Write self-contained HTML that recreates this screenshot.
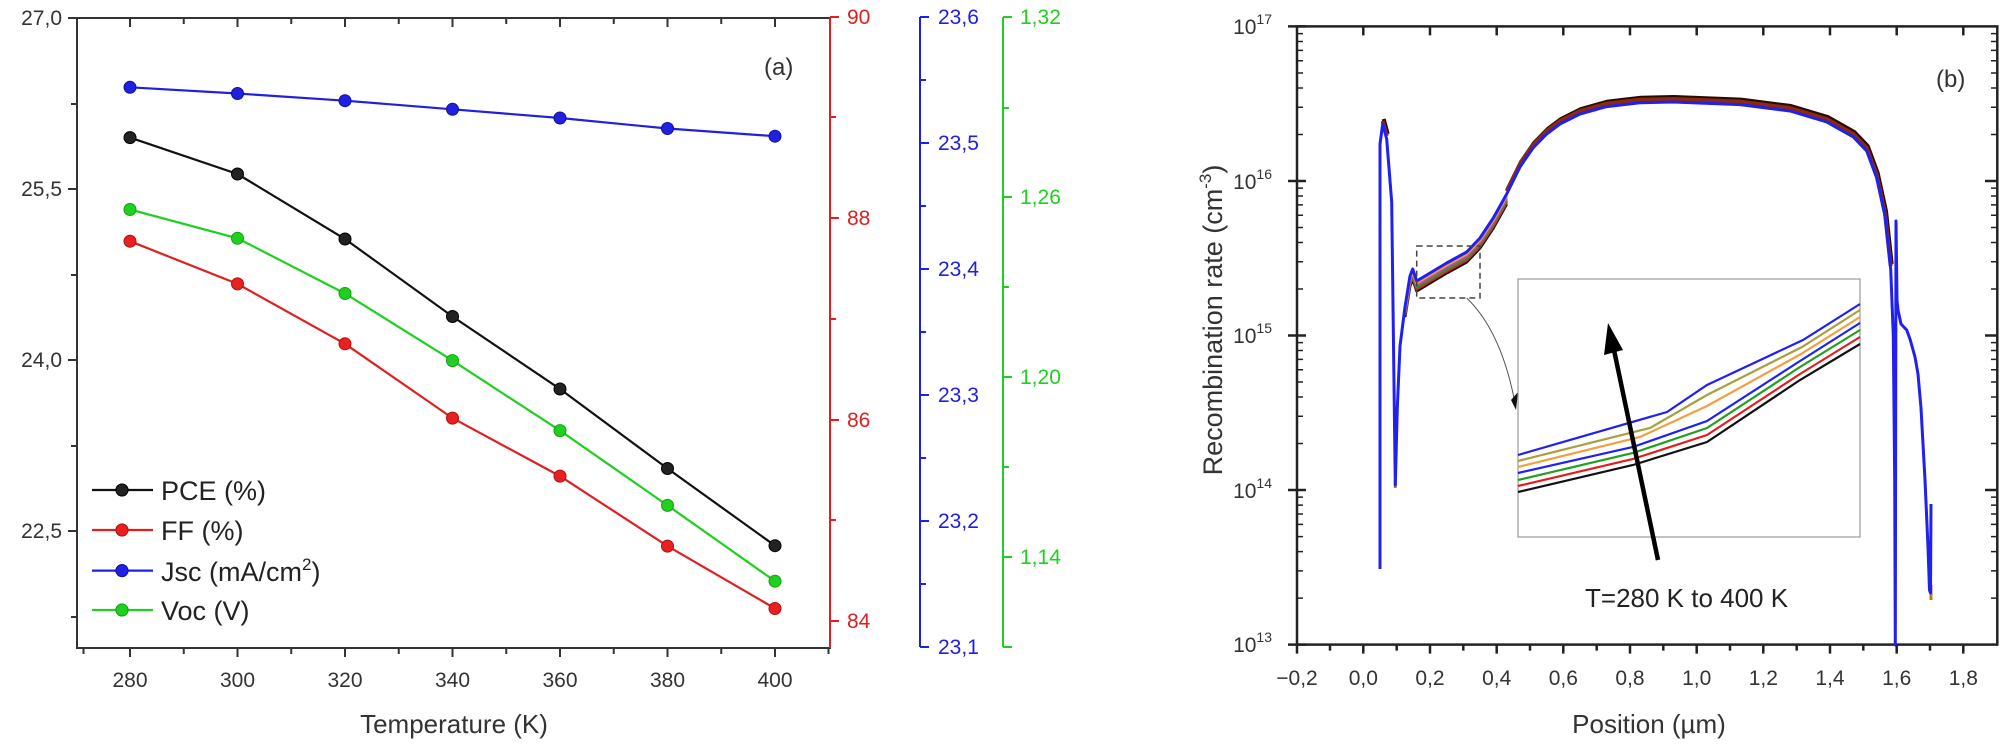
<!DOCTYPE html>
<html><head><meta charset="utf-8"><style>
html,body{margin:0;padding:0;background:#fff;}
svg{display:block;font-family:"Liberation Sans",Arial,sans-serif;}
</style></head><body>
<svg width="2008" height="748" viewBox="0 0 2008 748" xmlns="http://www.w3.org/2000/svg">
<!-- ============ PANEL A ============ -->
<g stroke="#333" stroke-width="2" fill="none">
<rect x="77" y="18" width="753" height="630"/>
<path d="M130,648v9M237.5,648v9M345,648v9M452.5,648v9M560,648v9M667.5,648v9M775,648v9
M183.75,648v6M291.25,648v6M398.75,648v6M506.25,648v6M613.75,648v6M721.25,648v6M83.5,648v6M828.5,648v6"/>
<path d="M130,18v9M237.5,18v9M345,18v9M452.5,18v9M560,18v9M667.5,18v9M775,18v9
M183.75,18v6M291.25,18v6M398.75,18v6M506.25,18v6M613.75,18v6M721.25,18v6"/>
<path d="M77,18h-9M77,189h-9M77,360h-9M77,531h-9M77,104h-6M77,275h-6M77,446h-6M77,617h-6"/>
</g>
<g stroke="#e02020" stroke-width="2" fill="none">
<path d="M830,18V648M830,17h9M830,218h9M830,420h9M830,621h9M830,117h6M830,319h6M830,520h6"/>
</g>
<g stroke="#2020e0" stroke-width="2" fill="none">
<path d="M920,17V647M920,17h9M920,143h9M920,269h9M920,395h9M920,521h9M920,647h9
M920,80h6M920,206h6M920,332h6M920,458h6M920,584h6"/>
</g>
<g stroke="#20d020" stroke-width="2" fill="none">
<path d="M1003,17V647M1003,17h9M1003,197h9M1003,377h9M1003,557h9M1003,647h9M1003,108h6M1003,287h6M1003,467h6"/>
</g>
<g font-size="21" fill="#333" text-anchor="end">
<text x="62" y="25">27,0</text><text x="62" y="196">25,5</text><text x="62" y="367">24,0</text><text x="62" y="538">22,5</text>
</g>
<g font-size="21" fill="#333" text-anchor="middle">
<text x="130" y="687">280</text><text x="237.5" y="687">300</text><text x="345" y="687">320</text><text x="452.5" y="687">340</text><text x="560" y="687">360</text><text x="667.5" y="687">380</text><text x="775" y="687">400</text>
</g>
<text x="454" y="733" font-size="26" fill="#333" text-anchor="middle">Temperature (K)</text>
<g font-size="21" fill="#e02020"><text x="847" y="24">90</text><text x="847" y="225">88</text><text x="847" y="427">86</text><text x="847" y="628">84</text></g>
<g font-size="21" fill="#2020e0"><text x="938" y="24">23,6</text><text x="938" y="150">23,5</text><text x="938" y="276">23,4</text><text x="938" y="402">23,3</text><text x="938" y="528">23,2</text><text x="938" y="654">23,1</text></g>
<g font-size="21" fill="#20d020"><text x="1020" y="24">1,32</text><text x="1020" y="204">1,26</text><text x="1020" y="384">1,20</text><text x="1020" y="564">1,14</text></g>
<text x="764" y="75" font-size="24" fill="#333">(a)</text>
<g fill="none" stroke-width="2.2">
<polyline stroke="#2020e0" points="130,87.3 237.5,93.5 345,100.7 452.5,109.3 560,118 667.5,128.5 775,136.2"/>
<polyline stroke="#111" points="130,137.6 237.5,174 345,239 452.5,316.5 560,389 667.5,468.5 775,545.7"/>
<polyline stroke="#20d020" points="130,209.5 237.5,238.3 345,293.5 452.5,360.6 560,430.6 667.5,505.4 775,581.2"/>
<polyline stroke="#e02020" points="130,241.2 237.5,283.9 345,343.8 452.5,418.1 560,476.1 667.5,546.1 775,608.5"/>
</g>
<g stroke-width="1">
<g fill="#2020e0" stroke="#1010a0"><circle cx="130" cy="87.3" r="6"/><circle cx="237.5" cy="93.5" r="6"/><circle cx="345" cy="100.7" r="6"/><circle cx="452.5" cy="109.3" r="6"/><circle cx="560" cy="118" r="6"/><circle cx="667.5" cy="128.5" r="6"/><circle cx="775" cy="136.2" r="6"/><circle cx="122" cy="570.6" r="6"/></g>
<g fill="#222" stroke="#000"><circle cx="130" cy="137.6" r="6"/><circle cx="237.5" cy="174" r="6"/><circle cx="345" cy="239" r="6"/><circle cx="452.5" cy="316.5" r="6"/><circle cx="560" cy="389" r="6"/><circle cx="667.5" cy="468.5" r="6"/><circle cx="775" cy="545.7" r="6"/><circle cx="122" cy="490" r="6"/></g>
<g fill="#20d020" stroke="#10a010"><circle cx="130" cy="209.5" r="6"/><circle cx="237.5" cy="238.3" r="6"/><circle cx="345" cy="293.5" r="6"/><circle cx="452.5" cy="360.6" r="6"/><circle cx="560" cy="430.6" r="6"/><circle cx="667.5" cy="505.4" r="6"/><circle cx="775" cy="581.2" r="6"/><circle cx="122" cy="610" r="6"/></g>
<g fill="#e82020" stroke="#b01010"><circle cx="130" cy="241.2" r="6"/><circle cx="237.5" cy="283.9" r="6"/><circle cx="345" cy="343.8" r="6"/><circle cx="452.5" cy="418.1" r="6"/><circle cx="560" cy="476.1" r="6"/><circle cx="667.5" cy="546.1" r="6"/><circle cx="775" cy="608.5" r="6"/><circle cx="122" cy="530" r="6"/></g>
</g>
<g stroke-width="2.2"><path d="M92,490h61" stroke="#111"/><path d="M92,530h61" stroke="#e02020"/><path d="M92,570.6h61" stroke="#2020e0"/><path d="M92,610h61" stroke="#20d020"/></g>
<g stroke-width="1"><circle cx="122" cy="490" r="6" fill="#222" stroke="#000"/><circle cx="122" cy="530" r="6" fill="#e82020" stroke="#b01010"/><circle cx="122" cy="570.6" r="6" fill="#2020e0" stroke="#1010a0"/><circle cx="122" cy="610" r="6" fill="#20d020" stroke="#10a010"/></g>
<g font-size="27" fill="#222">
<text x="161" y="500">PCE (%)</text><text x="161" y="540">FF (%)</text>
<text x="161" y="581">Jsc (mA/cm<tspan font-size="17" dy="-11">2</tspan><tspan dy="11">)</tspan></text>
<text x="161" y="620">Voc (V)</text>
</g>

<!-- ============ PANEL B ============ -->
<g stroke="#222" stroke-width="2.5" fill="none">
<rect x="1297" y="26.4" width="700.3" height="618.2"/>
<path d="M1297,644.6v9M1363.3,644.6v9M1430,644.6v9M1496.7,644.6v9M1563.3,644.6v9M1630,644.6v9M1696.7,644.6v9M1763.3,644.6v9M1830,644.6v9M1896.7,644.6v9M1963.3,644.6v9
M1330,644.6v6M1396.7,644.6v6M1463.3,644.6v6M1530,644.6v6M1596.7,644.6v6M1663.3,644.6v6M1730,644.6v6M1796.7,644.6v6M1863.3,644.6v6M1930,644.6v6"/>
<path d="M1363.3,26.4v9M1430,26.4v9M1496.7,26.4v9M1563.3,26.4v9M1630,26.4v9M1696.7,26.4v9M1763.3,26.4v9M1830,26.4v9M1896.7,26.4v9M1963.3,26.4v9"/>
<path d="M1288,26.4h18M1288,181h18M1288,335.5h18M1288,490h18M1288,644.6h18M1997,181h-12M1997,335.5h-12M1997,490h-12"/>
</g>
<defs>
<path id="mt" d="M1297,598.1h6M1297,570.9h6M1297,551.6h6M1297,536.6h6M1297,524.4h6M1297,514.0h6M1297,505.1h6M1297,497.1h6
M1297,443.5h6M1297,416.3h6M1297,397.0h6M1297,382.0h6M1297,369.8h6M1297,359.4h6M1297,350.5h6M1297,342.6h6
M1297,289.0h6M1297,261.8h6M1297,242.5h6M1297,227.5h6M1297,215.3h6M1297,204.9h6M1297,196.0h6M1297,188.1h6
M1297,134.5h6M1297,107.3h6M1297,88.0h6M1297,73.0h6M1297,60.8h6M1297,50.4h6M1297,41.5h6M1297,33.6h6"/>
</defs>
<g stroke="#222" stroke-width="1.5">
<use href="#mt"/>
<use href="#mt" transform="translate(3294,0) scale(-1,1)"/>
</g>
<g font-size="21" fill="#333" text-anchor="end">
<text x="1272" y="34">10<tspan font-size="14" dy="-10">17</tspan></text>
<text x="1272" y="189">10<tspan font-size="14" dy="-10">16</tspan></text>
<text x="1272" y="343">10<tspan font-size="14" dy="-10">15</tspan></text>
<text x="1272" y="498">10<tspan font-size="14" dy="-10">14</tspan></text>
<text x="1272" y="652">10<tspan font-size="14" dy="-10">13</tspan></text>
</g>
<g font-size="21" fill="#333" text-anchor="middle">
<text x="1297" y="685">−0,2</text><text x="1363.3" y="685">0,0</text><text x="1430" y="685">0,2</text><text x="1496.7" y="685">0,4</text><text x="1563.3" y="685">0,6</text><text x="1630" y="685">0,8</text><text x="1696.7" y="685">1,0</text><text x="1763.3" y="685">1,2</text><text x="1830" y="685">1,4</text><text x="1896.7" y="685">1,6</text><text x="1963.3" y="685">1,8</text>
</g>
<text x="1649" y="733" font-size="26" fill="#333" text-anchor="middle">Position (µm)</text>
<text transform="translate(1222,320) rotate(-90)" font-size="27" fill="#333" text-anchor="middle">Recombination rate (cm<tspan font-size="17" dy="-11">-3</tspan><tspan dy="11">)</tspan></text>
<text x="1936" y="87" font-size="24" fill="#333">(b)</text>

<defs>
<path id="cA" d="M1405,307 L1410,276 L1412.7,269 L1416.7,281 L1426.7,275 L1446.7,263 L1466.7,252 L1480,238 L1493.3,218 L1506.7,194"/>
<path id="cB" d="M1382.7,124 L1386.7,139 M1506.7,194 L1520,167 L1533,148 L1546.7,134 L1560,124 L1580,114 L1606.7,106.6 L1640,102.7 L1673,102 L1740,104.6 L1790,111 L1826.7,122 L1853.3,137 L1866.7,151 L1876.7,178 L1885,216 L1890.7,269"/>
</defs>
<g fill="none" stroke-linejoin="round">
<use href="#cB" transform="translate(1,-5)" stroke="#2a0a05" stroke-width="4"/>
<use href="#cB" transform="translate(0,-3)" stroke="#8a2a10" stroke-width="4"/>
<use href="#cA" transform="translate(0,10)" stroke="#111" stroke-width="3"/>
<use href="#cA" transform="translate(0,8)" stroke="#e02020" stroke-width="3"/>
<use href="#cA" transform="translate(0,6)" stroke="#20a020" stroke-width="3"/>
<use href="#cA" transform="translate(0,4)" stroke="#c040c0" stroke-width="3"/>
<use href="#cA" transform="translate(0,2)" stroke="#f0a030" stroke-width="3"/>
<path stroke="#b08020" stroke-width="3" d="M1896,221 V246 M1931,585 V600 M1395.3,480 v8"/>
<path stroke="#2020f0" stroke-width="3" d="M1380,569 L1380,144 L1382.7,124 L1386.7,139 L1391.7,202 L1394,384 L1395.3,485 L1397.3,408 L1400,346 L1405,307 L1410,276 L1412.7,269 L1416.7,281 L1426.7,275 L1446.7,263 L1466.7,252 L1480,238 L1493.3,218 L1506.7,194 L1520,167 L1533,148 L1546.7,134 L1560,124 L1580,114 L1606.7,106.6 L1640,102.7 L1673,102 L1740,104.6 L1790,111 L1826.7,122 L1853.3,137 L1866.7,151 L1876.7,178 L1885,216 L1890.7,269 L1893.3,336 L1894.7,480 L1895.3,645 L1896,221 L1897,300 L1898,310 L1901,324 L1906.7,330 L1910,339 L1915,357 L1918,374 L1921,408 L1925,480 L1928,547 L1929.5,590 L1930.5,593 L1931,504"/>
</g>
<rect x="1416.7" y="246" width="63.3" height="52" fill="none" stroke="#444" stroke-width="1.5" stroke-dasharray="6,4"/>
<path d="M1466.7,298 Q1500,330 1514,398" fill="none" stroke="#555" stroke-width="1"/>
<path d="M1511,400 L1518,392 L1516,410 Z" fill="#111"/>
<rect x="1518" y="279" width="342" height="258" fill="#fff" stroke="#999" stroke-width="1.2"/>
<g fill="none" stroke-width="2.2">
<polyline stroke="#111" points="1518,492 1633,465 1707,442 1800,380 1860,344"/>
<polyline stroke="#e02020" points="1518,486 1633,459 1707,435 1800,374 1860,337"/>
<polyline stroke="#20a020" points="1518,480 1633,453 1707,428 1800,367 1860,330"/>
<polyline stroke="#2020f0" points="1518,473 1633,447 1707,421 1800,361 1860,323"/>
<polyline stroke="#f0a040" points="1518,467 1640,437 1707,406 1801,354 1860,317"/>
<polyline stroke="#a8a040" points="1518,461 1650,428 1707,395 1802,347 1860,310"/>
<polyline stroke="#2020f0" points="1518,455 1667,412 1707,385 1803,340 1860,304"/>
</g>
<path d="M1658,560 L1614,350" stroke="#000" stroke-width="4.5" fill="none"/>
<path d="M1608,323 L1604,355 L1623,350 Z" fill="#000"/>
<text x="1585" y="607" font-size="26" fill="#222">T=280 K to 400 K</text>
</svg>
</body></html>
